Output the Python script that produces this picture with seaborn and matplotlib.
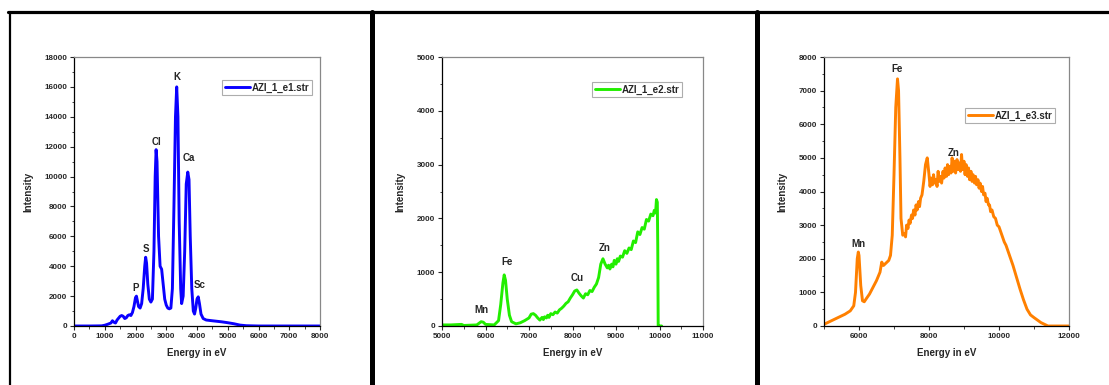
import numpy as np
import pandas as pd
import matplotlib.pyplot as plt
import seaborn as sns
from matplotlib.lines import Line2D
from matplotlib.ticker import MultipleLocator

# spectrum 1 (blue)
e1 = [0, 500, 900, 1000, 1100, 1200, 1250, 1300, 1350, 1400, 1500, 1550, 1600, 1650, 1700,
      1750, 1800, 1850, 1900, 1950, 2000, 2030, 2060, 2100, 2150, 2200, 2250, 2300, 2330, 2360,
      2400, 2450, 2500, 2550, 2600, 2640, 2670, 2700, 2750, 2800, 2850, 2900, 2950, 3000, 3050,
      3100, 3150, 3200, 3250, 3300, 3340, 3380, 3420, 3470, 3500, 3550, 3600, 3650, 3700, 3740,
      3780, 3830, 3880, 3920, 3960, 4000, 4040, 4080, 4130, 4200, 4300, 4500, 4800, 5000, 5200,
      5400, 5600, 6000, 7000, 8000]
i1 = [0, 0, 10, 50, 120, 200, 350, 250, 200, 400, 650, 700, 650, 500, 550,
      700, 750, 700, 900, 1300, 1900, 2000, 1700, 1300, 1200, 1500, 2500, 4000, 4600, 4200,
      2800, 1800, 1600, 1800, 5000, 10000, 11800, 11000, 6000, 4000, 3800, 2800, 1800, 1400, 1200,
      1150, 1200, 2500, 8000, 14000, 16000, 14000, 7000, 2500, 1500, 2000, 5000, 9500, 10300, 9800,
      6000, 2500, 1000, 800, 1200, 1800, 1950, 1500, 800, 500, 400, 350, 280, 220, 150,
      60, 20, 0, 0, 0]

# spectrum 2 (green)
e2 = [5000, 5200, 5450, 5500, 5800, 5900, 5950, 6000, 6200, 6300, 6350, 6400, 6430, 6460, 6500,
      6550, 6600, 6700, 6800, 6900, 7000, 7050, 7100, 7150, 7200, 7250, 7300, 7330, 7360, 7400,
      7430, 7460, 7500, 7550, 7600, 7650, 7700, 7750, 7800, 7850, 7900, 7950, 8000, 8050, 8100,
      8150, 8200, 8250, 8300, 8350, 8400, 8450, 8500, 8550, 8600, 8650, 8700, 8750, 8800, 8830,
      8860, 8900, 8930, 8960, 9000, 9030, 9060, 9100, 9150, 9200, 9250, 9300, 9350, 9400, 9450,
      9500, 9550, 9600, 9650, 9700, 9750, 9800, 9850, 9880, 9910, 9930, 9950, 9960, 9970, 10000,
      10050]
i2 = [20, 20, 30, 10, 20, 80, 70, 30, 20, 100, 400, 800, 950, 850, 500,
      200, 80, 40, 60, 100, 150, 220, 230, 200, 150, 110, 160, 120, 170, 150,
      200, 160, 230, 210, 260, 240, 300, 330, 370, 420, 450, 520, 580, 650, 670,
      610, 560, 520, 600, 580, 660, 640, 720, 780, 900, 1150, 1250, 1150, 1080, 1130,
      1060, 1150, 1100, 1220, 1150, 1250, 1200, 1300, 1280, 1400, 1350, 1450, 1420, 1580, 1550,
      1750, 1700, 1830, 1800, 1980, 1950, 2080, 2050, 2150, 2100, 2350, 2300, 1500, 0, 0,
      0]

# spectrum 3 (orange)
e3 = [5000, 5200, 5400, 5600, 5750, 5850, 5900, 5950, 5980, 6000, 6050, 6100, 6150, 6200, 6300,
      6400, 6500, 6600, 6650, 6700, 6750, 6800, 6850, 6900, 6950, 7000, 7050, 7100, 7130, 7170,
      7200, 7250, 7300, 7330, 7360, 7400, 7430, 7460, 7500, 7530, 7560, 7600, 7630, 7660, 7700,
      7730, 7760, 7800, 7850, 7900, 7950, 7980, 8000, 8030, 8060, 8100, 8130, 8160, 8200, 8230,
      8260, 8300, 8330, 8360, 8400, 8430, 8460, 8500, 8530, 8560, 8600, 8630, 8660, 8700, 8730,
      8760, 8800, 8830, 8860, 8900, 8930, 8960, 9000, 9030, 9060, 9100, 9130, 9160, 9200, 9230,
      9260, 9300, 9330, 9360, 9400, 9430, 9460, 9500, 9530, 9560, 9600, 9630, 9660, 9700, 9730,
      9760, 9800, 9850, 9900, 9950, 10000, 10050, 10100, 10150, 10200, 10250, 10300, 10400, 10500, 10600,
      10700, 10800, 10900, 11000, 11200, 11400, 12000]
i3 = [50, 150, 250, 350, 450, 600, 1000, 2000, 2200, 2100, 1200, 750, 720, 800, 950,
      1150, 1350, 1600, 1900, 1800, 1850, 1900, 1950, 2100, 2700, 4500, 6500, 7350, 7000, 5000,
      3200, 2700, 2750, 2650, 3000, 2900, 3150, 3050, 3300, 3200, 3450, 3300, 3600, 3450, 3700,
      3550, 3800, 3900, 4300, 4800, 5000, 4700, 4500, 4150, 4400, 4200, 4500, 4250, 4350, 4150,
      4600, 4300, 4450, 4250, 4600, 4400, 4700, 4450, 4800, 4500, 4750, 4550, 5000, 4600, 4900,
      4550, 4950, 4650, 4850, 4600, 5100, 4650, 4900, 4500, 4800, 4450, 4700, 4350, 4600, 4300,
      4500, 4250, 4450, 4200, 4350, 4100, 4250, 4000, 4150, 3900, 3950, 3700, 3800, 3600, 3600,
      3400, 3450, 3250, 3200, 3000, 2950, 2800, 2650, 2500, 2400, 2250, 2100, 1800, 1450, 1100,
      780, 500, 330, 250, 100, 0, 0]

labels1 = [("P", 2000, 2200), ("S", 2330, 4800), ("Cl", 2680, 12000),
           ("K", 3360, 16300), ("Ca", 3730, 10900), ("Sc", 4100, 2400)]
labels2 = [("Mn", 5900, 200), ("Fe", 6500, 1100), ("Cu", 8100, 800), ("Zn", 8750, 1350)]
labels3 = [("Mn", 5980, 2300), ("Fe", 7100, 7500), ("Zn", 8700, 5000)]

sns.set_style("ticks")
plt.rcParams['font.family'] = ['Liberation Sans', 'DejaVu Sans']
plt.rcParams['font.weight'] = 'bold'

W, H = 1109, 385
fig = plt.figure(figsize=(W / 100, H / 100), dpi=100)

panels = [
    dict(e=e1, i=i1, name="AZI_1_e1.str", color="#0a00ff", lab=labels1, box=(74, 320),
         xlim=(0, 8000), xmaj=1000, xmin=500, ylim=(0, 18000), ymaj=2000, ymin=1000, leg=(0.967, 0.914)),
    dict(e=e2, i=i2, name="AZI_1_e2.str", color="#22ee00", lab=labels2, box=(442, 703),
         xlim=(5000, 11000), xmaj=1000, xmin=500, ylim=(0, 5000), ymaj=1000, ymin=500, leg=(0.92, 0.907)),
    dict(e=e3, i=i3, name="AZI_1_e3.str", color="#ff8000", lab=labels3, box=(824, 1069),
         xlim=(5000, 12000), xmaj=2000, xmin=1000, ylim=(0, 8000), ymaj=1000, ymin=500, leg=(0.943, 0.81)),
]

top, bottom = 57, 326
for p in panels:
    l, r = p["box"]
    ax = fig.add_axes([l / W, 1 - bottom / H, (r - l) / W, (bottom - top) / H])
    df = pd.DataFrame({"Energy": p["e"], "Intensity": p["i"]})
    sns.lineplot(data=df, x="Energy", y="Intensity", ax=ax, color=p["color"], lw=2.1,
                 sort=False, estimator=None, label=p["name"])
    ax.set_xlim(*p["xlim"])
    ax.set_ylim(*p["ylim"])
    ax.xaxis.set_major_locator(MultipleLocator(p["xmaj"]))
    ax.xaxis.set_minor_locator(MultipleLocator(p["xmin"]))
    ax.yaxis.set_major_locator(MultipleLocator(p["ymaj"]))
    ax.yaxis.set_minor_locator(MultipleLocator(p["ymin"]))
    ax.tick_params(axis="both", which="major", labelsize=5.8, length=3, width=0.8, direction="out", pad=2)
    ax.tick_params(axis="both", which="minor", length=1.8, width=0.6, direction="out")
    for t in ax.get_xticklabels() + ax.get_yticklabels():
        t.set_fontweight("bold")
    for s in ["top", "right"]:
        ax.spines[s].set_color("#888888")
    for s in ["left", "bottom"]:
        ax.spines[s].set_color("black")
    for s in ax.spines.values():
        s.set_linewidth(0.9)
    ax.set_xlabel("Energy in eV", fontsize=7, fontweight="bold", labelpad=6)
    ax.set_ylabel("Intensity", fontsize=7, fontweight="bold", labelpad=8)
    for txt, x, y in p["lab"]:
        ax.text(x, y, txt, fontsize=7, fontweight="bold", ha="center", va="bottom")
    leg = ax.legend(loc="upper right", bbox_to_anchor=p["leg"], fontsize=7, frameon=True,
                    fancybox=False, edgecolor="#999999", handlelength=2.6, borderpad=0.25,
                    handletextpad=0.2, borderaxespad=0)
    leg.get_frame().set_linewidth(0.8)
    for t in leg.get_texts():
        t.set_fontweight("bold")

# black panel frames
ytop = 1 - 12 / H
fig.add_artist(Line2D([8 / W, 1], [ytop, ytop], color="black", lw=2.3, transform=fig.transFigure))
fig.add_artist(Line2D([9.5 / W, 9.5 / W], [0, ytop], color="black", lw=1.6, transform=fig.transFigure))
fig.add_artist(Line2D([372 / W, 372 / W], [0, ytop], color="black", lw=3.6, transform=fig.transFigure))
fig.add_artist(Line2D([757 / W, 757 / W], [0, ytop], color="black", lw=3.6, transform=fig.transFigure))

fig.savefig("out.png", dpi=100)
